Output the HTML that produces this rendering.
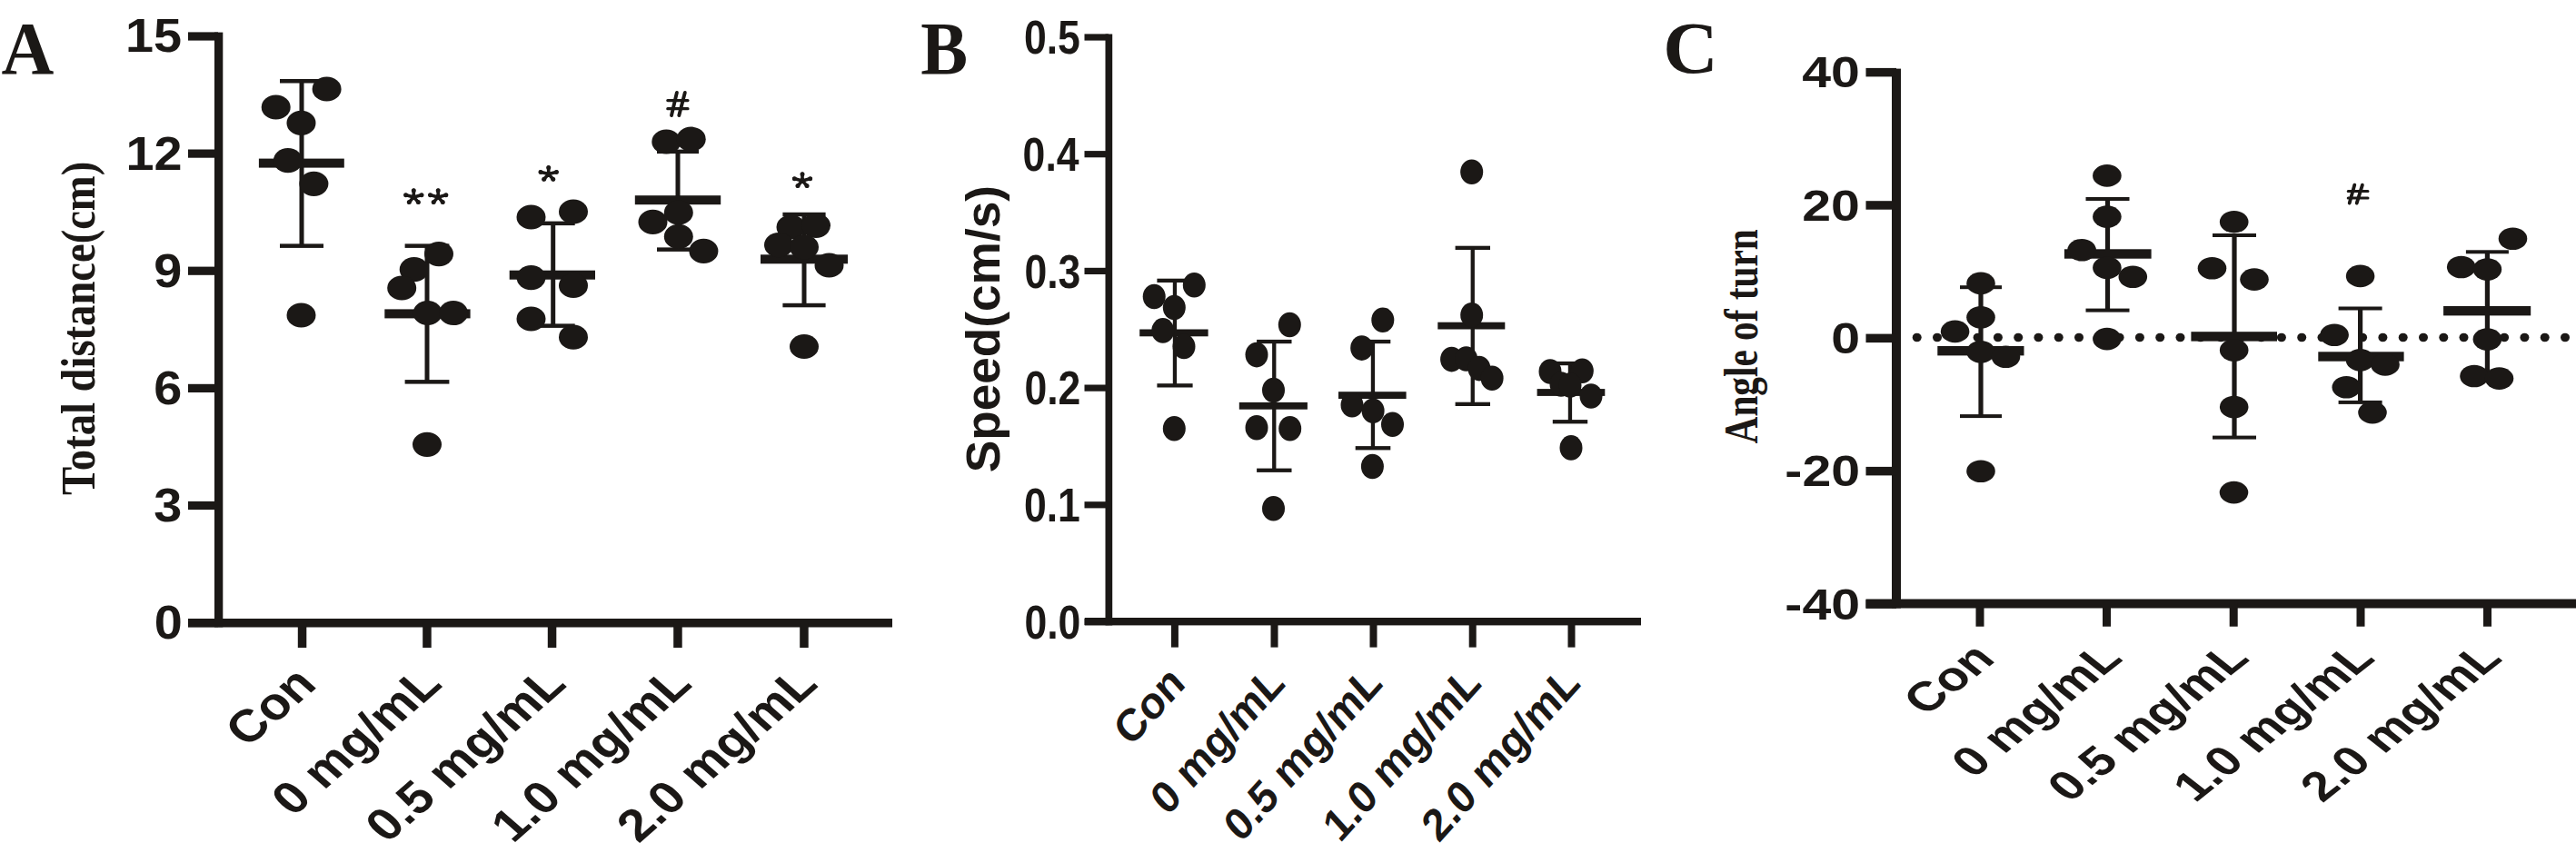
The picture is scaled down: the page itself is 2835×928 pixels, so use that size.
<!DOCTYPE html>
<html><head><meta charset="utf-8"><title>Figure</title>
<style>html,body{margin:0;padding:0;background:#fff;}svg{display:block}text{font-weight:bold;}.s{font-family:"Liberation Sans", sans-serif;}.r{font-family:"Liberation Serif", serif;}</style></head>
<body><svg width="2835" height="928" viewBox="0 0 2835 928">
<rect width="2835" height="928" fill="#fff"/>
<g fill="#1b1816">
<text transform="translate(1.40,80.80) scale(0.9759,1) rotate(0)" class="r" font-size="82.12">A</text>
<rect x="236.0" y="35.6" width="9.3" height="654.8"/>
<rect x="207.0" y="681.0" width="775.0" height="9.5"/>
<rect x="207.0" y="681.0" width="33.0" height="9.2"/>
<rect x="207.0" y="551.9" width="33.0" height="9.2"/>
<rect x="207.0" y="422.8" width="33.0" height="9.2"/>
<rect x="207.0" y="293.6" width="33.0" height="9.2"/>
<rect x="207.0" y="164.5" width="33.0" height="9.2"/>
<rect x="207.0" y="35.4" width="33.0" height="9.2"/>
<rect x="327.8" y="686.0" width="9.5" height="27.0"/>
<rect x="465.2" y="686.0" width="9.5" height="27.0"/>
<rect x="602.8" y="686.0" width="9.5" height="27.0"/>
<rect x="741.2" y="686.0" width="9.5" height="27.0"/>
<rect x="880.2" y="686.0" width="9.5" height="27.0"/>
<text transform="translate(138.05,57.48) scale(1.0787,1) rotate(0)" class="s" font-size="51.71">15</text>
<text transform="translate(138.61,187.22) scale(1.0787,1) rotate(0)" class="s" font-size="51.71">12</text>
<text transform="translate(169.29,316.08) scale(1.0787,1) rotate(0)" class="s" font-size="51.71">9</text>
<text transform="translate(169.29,445.20) scale(1.0787,1) rotate(0)" class="s" font-size="51.71">6</text>
<text transform="translate(169.29,574.32) scale(1.0787,1) rotate(0)" class="s" font-size="51.71">3</text>
<text transform="translate(169.85,703.44) scale(1.0787,1) rotate(0)" class="s" font-size="51.71">0</text>
<text transform="translate(103.74,544.93) scale(1.1300,1) rotate(-90)" class="r" font-size="46.61">Total distance(cm)</text>
<text transform="translate(272.09,824.04) scale(1.1408,1) rotate(-45)" class="s" font-size="49.90">Con</text>
<text transform="translate(322.76,899.89) scale(1.1408,1) rotate(-45)" class="s" font-size="49.90">0 mg/mL</text>
<text transform="translate(426.08,929.33) scale(1.1408,1) rotate(-45)" class="s" font-size="49.90">0.5 mg/mL</text>
<text transform="translate(564.38,929.33) scale(1.1408,1) rotate(-45)" class="s" font-size="49.90">1.0 mg/mL</text>
<text transform="translate(702.78,929.33) scale(1.1408,1) rotate(-45)" class="s" font-size="49.90">2.0 mg/mL</text>
<path d="M455.3,216.9 L455.3,209.3 M455.3,216.9 L446.1,214.5 M455.3,216.9 L464.5,214.5 M455.3,216.9 L449.9,223.0 M455.3,216.9 L460.7,223.0" fill="none" stroke="#1b1816" stroke-width="3.6" stroke-linecap="round"/>
<circle cx="455.3" cy="209.8" r="2.5"/>
<circle cx="446.7" cy="214.7" r="2.5"/>
<circle cx="463.9" cy="214.7" r="2.5"/>
<circle cx="450.3" cy="222.6" r="2.5"/>
<circle cx="460.3" cy="222.6" r="2.5"/>
<path d="M482.2,216.9 L482.2,209.3 M482.2,216.9 L473.0,214.5 M482.2,216.9 L491.4,214.5 M482.2,216.9 L476.8,223.0 M482.2,216.9 L487.6,223.0" fill="none" stroke="#1b1816" stroke-width="3.6" stroke-linecap="round"/>
<circle cx="482.2" cy="209.8" r="2.5"/>
<circle cx="473.6" cy="214.7" r="2.5"/>
<circle cx="490.8" cy="214.7" r="2.5"/>
<circle cx="477.2" cy="222.6" r="2.5"/>
<circle cx="487.2" cy="222.6" r="2.5"/>
<path d="M603.7,191.6 L603.7,184.0 M603.7,191.6 L594.5,189.2 M603.7,191.6 L612.9,189.2 M603.7,191.6 L598.3,197.7 M603.7,191.6 L609.1,197.7" fill="none" stroke="#1b1816" stroke-width="3.6" stroke-linecap="round"/>
<circle cx="603.7" cy="184.5" r="2.5"/>
<circle cx="595.1" cy="189.4" r="2.5"/>
<circle cx="612.3" cy="189.4" r="2.5"/>
<circle cx="598.7" cy="197.3" r="2.5"/>
<circle cx="608.7" cy="197.3" r="2.5"/>
<path d="M883.0,198.9 L883.0,191.3 M883.0,198.9 L873.8,196.5 M883.0,198.9 L892.2,196.5 M883.0,198.9 L877.6,205.0 M883.0,198.9 L888.4,205.0" fill="none" stroke="#1b1816" stroke-width="3.6" stroke-linecap="round"/>
<circle cx="883.0" cy="191.8" r="2.5"/>
<circle cx="874.4" cy="196.7" r="2.5"/>
<circle cx="891.6" cy="196.7" r="2.5"/>
<circle cx="878.0" cy="204.6" r="2.5"/>
<circle cx="888.0" cy="204.6" r="2.5"/>
<path d="M744.9,101.9 L739,127 M753.8,101.9 L747.3,127" fill="none" stroke="#1b1816" stroke-width="3.9" stroke-linecap="round"/>
<path d="M734.8,110.6 L757,110.6 M734.8,119.7 L757,119.7" fill="none" stroke="#1b1816" stroke-width="3.2" stroke-linecap="round"/>
<rect x="329.5" y="89.2" width="5.0" height="181.5"/>
<rect x="308.0" y="87.0" width="48.0" height="4.5"/>
<rect x="308.0" y="268.4" width="48.0" height="4.5"/>
<rect x="284.9" y="174.6" width="93.9" height="10.0"/>
<ellipse cx="359.6" cy="98.0" rx="16.0" ry="13.6"/>
<ellipse cx="303.7" cy="118.0" rx="16.0" ry="13.6"/>
<ellipse cx="331.5" cy="135.4" rx="16.0" ry="13.6"/>
<ellipse cx="316.9" cy="176.7" rx="16.0" ry="13.6"/>
<ellipse cx="345.4" cy="202.3" rx="16.0" ry="13.6"/>
<ellipse cx="331.5" cy="347.0" rx="16.0" ry="13.6"/>
<rect x="467.5" y="270.7" width="5.0" height="149.6"/>
<rect x="445.6" y="268.4" width="48.8" height="4.5"/>
<rect x="445.6" y="418.1" width="48.8" height="4.5"/>
<rect x="423.3" y="340.4" width="94.3" height="10.0"/>
<ellipse cx="483.0" cy="279.6" rx="16.0" ry="13.6"/>
<ellipse cx="455.7" cy="296.7" rx="16.0" ry="13.6"/>
<ellipse cx="442.2" cy="317.0" rx="16.0" ry="13.6"/>
<ellipse cx="470.6" cy="344.5" rx="16.0" ry="13.6"/>
<ellipse cx="499.0" cy="344.5" rx="16.0" ry="13.6"/>
<ellipse cx="470.0" cy="489.3" rx="16.0" ry="13.6"/>
<rect x="606.2" y="245.8" width="5.0" height="112.9"/>
<rect x="584.7" y="243.6" width="48.0" height="4.5"/>
<rect x="584.7" y="356.4" width="48.0" height="4.5"/>
<rect x="560.7" y="297.7" width="94.3" height="10.0"/>
<ellipse cx="584.5" cy="239.0" rx="16.0" ry="13.6"/>
<ellipse cx="631.0" cy="233.0" rx="16.0" ry="13.6"/>
<ellipse cx="584.5" cy="305.6" rx="16.0" ry="13.6"/>
<ellipse cx="631.0" cy="314.4" rx="16.0" ry="13.6"/>
<ellipse cx="584.5" cy="351.0" rx="16.0" ry="13.6"/>
<ellipse cx="631.0" cy="371.2" rx="16.0" ry="13.6"/>
<rect x="743.5" y="166.8" width="5.0" height="107.9"/>
<rect x="723.0" y="164.6" width="46.0" height="4.5"/>
<rect x="723.0" y="272.4" width="46.0" height="4.5"/>
<rect x="698.8" y="215.2" width="94.4" height="10.0"/>
<ellipse cx="733.3" cy="156.0" rx="16.0" ry="13.6"/>
<ellipse cx="760.7" cy="153.2" rx="16.0" ry="13.6"/>
<ellipse cx="718.5" cy="244.4" rx="16.0" ry="13.6"/>
<ellipse cx="746.8" cy="234.0" rx="16.0" ry="13.6"/>
<ellipse cx="746.8" cy="260.4" rx="16.0" ry="13.6"/>
<ellipse cx="774.4" cy="276.4" rx="16.0" ry="13.6"/>
<rect x="882.5" y="236.0" width="5.0" height="100.0"/>
<rect x="861.4" y="233.8" width="47.2" height="4.5"/>
<rect x="861.4" y="333.8" width="47.2" height="4.5"/>
<rect x="837.0" y="280.3" width="96.0" height="10.0"/>
<ellipse cx="870.5" cy="250.0" rx="16.0" ry="13.6"/>
<ellipse cx="898.0" cy="248.3" rx="16.0" ry="13.6"/>
<ellipse cx="857.0" cy="269.7" rx="16.0" ry="13.6"/>
<ellipse cx="885.0" cy="272.0" rx="16.0" ry="13.6"/>
<ellipse cx="912.5" cy="292.0" rx="16.0" ry="13.6"/>
<ellipse cx="885.0" cy="381.5" rx="16.0" ry="13.6"/>
<text transform="translate(1013.15,80.70) scale(0.9463,1) rotate(0)" class="r" font-size="82.15">B</text>
<rect x="1216.5" y="37.5" width="7.7" height="650.9"/>
<rect x="1193.8" y="680.0" width="612.2" height="8.4"/>
<rect x="1193.5" y="680.9" width="26.5" height="7.2"/>
<rect x="1193.5" y="552.2" width="26.5" height="7.2"/>
<rect x="1193.5" y="423.5" width="26.5" height="7.2"/>
<rect x="1193.5" y="294.8" width="26.5" height="7.2"/>
<rect x="1193.5" y="166.1" width="26.5" height="7.2"/>
<rect x="1193.5" y="37.4" width="26.5" height="7.2"/>
<rect x="1288.9" y="684.0" width="8.0" height="28.6"/>
<rect x="1398.5" y="684.0" width="8.0" height="28.6"/>
<rect x="1507.5" y="684.0" width="8.0" height="28.6"/>
<rect x="1616.7" y="684.0" width="8.0" height="28.6"/>
<rect x="1725.5" y="684.0" width="8.0" height="28.6"/>
<text transform="translate(1127.40,702.87) scale(0.8451,1) rotate(0)" class="s" font-size="52.68">0.0</text>
<text transform="translate(1126.95,574.17) scale(0.8451,1) rotate(0)" class="s" font-size="52.68">0.1</text>
<text transform="translate(1127.40,445.47) scale(0.8451,1) rotate(0)" class="s" font-size="52.68">0.2</text>
<text transform="translate(1127.40,316.77) scale(0.8451,1) rotate(0)" class="s" font-size="52.68">0.3</text>
<text transform="translate(1125.62,188.07) scale(0.8451,1) rotate(0)" class="s" font-size="52.68">0.4</text>
<text transform="translate(1126.95,59.37) scale(0.8451,1) rotate(0)" class="s" font-size="52.68">0.5</text>
<text transform="translate(1100.32,520.30) scale(0.9740,1) rotate(-90)" class="s" font-size="53.19">Speed(cm/s)</text>
<text transform="translate(1244.47,822.94) scale(0.9015,1) rotate(-45)" class="s" font-size="49.90">Con</text>
<text transform="translate(1285.04,899.29) scale(0.9015,1) rotate(-45)" class="s" font-size="49.90">0 mg/mL</text>
<text transform="translate(1365.80,928.73) scale(0.9015,1) rotate(-45)" class="s" font-size="49.90">0.5 mg/mL</text>
<text transform="translate(1474.70,928.73) scale(0.9015,1) rotate(-45)" class="s" font-size="49.90">1.0 mg/mL</text>
<text transform="translate(1583.60,928.73) scale(0.9015,1) rotate(-45)" class="s" font-size="49.90">2.0 mg/mL</text>
<rect x="1290.8" y="308.8" width="4.3" height="115.5"/>
<rect x="1273.4" y="306.7" width="39.2" height="4.3"/>
<rect x="1273.4" y="422.2" width="39.2" height="4.3"/>
<rect x="1254.2" y="362.5" width="75.4" height="7.8"/>
<ellipse cx="1314.3" cy="313.7" rx="12.5" ry="13.8"/>
<ellipse cx="1270.2" cy="326.5" rx="12.5" ry="13.8"/>
<ellipse cx="1292.3" cy="338.6" rx="12.5" ry="13.8"/>
<ellipse cx="1279.8" cy="363.9" rx="12.5" ry="13.8"/>
<ellipse cx="1303.0" cy="381.4" rx="12.5" ry="13.8"/>
<ellipse cx="1292.3" cy="471.8" rx="12.5" ry="13.8"/>
<rect x="1400.1" y="376.0" width="4.3" height="141.7"/>
<rect x="1383.1" y="373.9" width="38.4" height="4.3"/>
<rect x="1383.1" y="515.6" width="38.4" height="4.3"/>
<rect x="1363.8" y="442.9" width="75.1" height="7.8"/>
<ellipse cx="1419.3" cy="357.5" rx="12.5" ry="13.8"/>
<ellipse cx="1383.0" cy="390.6" rx="12.5" ry="13.8"/>
<ellipse cx="1401.5" cy="429.6" rx="12.5" ry="13.8"/>
<ellipse cx="1383.0" cy="470.7" rx="12.5" ry="13.8"/>
<ellipse cx="1419.7" cy="471.8" rx="12.5" ry="13.8"/>
<ellipse cx="1401.5" cy="559.7" rx="12.5" ry="13.8"/>
<rect x="1508.8" y="376.0" width="4.3" height="117.2"/>
<rect x="1491.7" y="373.9" width="38.6" height="4.3"/>
<rect x="1491.7" y="491.1" width="38.6" height="4.3"/>
<rect x="1473.0" y="431.2" width="74.6" height="7.8"/>
<ellipse cx="1521.8" cy="352.2" rx="12.5" ry="13.8"/>
<ellipse cx="1498.7" cy="383.1" rx="12.5" ry="13.8"/>
<ellipse cx="1488.0" cy="445.8" rx="12.5" ry="13.8"/>
<ellipse cx="1511.1" cy="452.2" rx="12.5" ry="13.8"/>
<ellipse cx="1532.5" cy="467.2" rx="12.5" ry="13.8"/>
<ellipse cx="1510.4" cy="513.5" rx="12.5" ry="13.8"/>
<rect x="1618.6" y="272.8" width="4.3" height="172.0"/>
<rect x="1601.6" y="270.7" width="38.4" height="4.3"/>
<rect x="1601.6" y="442.7" width="38.4" height="4.3"/>
<rect x="1582.3" y="354.7" width="74.0" height="7.8"/>
<ellipse cx="1619.7" cy="189.2" rx="12.5" ry="13.8"/>
<ellipse cx="1619.7" cy="346.8" rx="12.5" ry="13.8"/>
<ellipse cx="1597.6" cy="395.6" rx="12.5" ry="13.8"/>
<ellipse cx="1613.6" cy="395.0" rx="12.5" ry="13.8"/>
<ellipse cx="1627.9" cy="405.6" rx="12.5" ry="13.8"/>
<ellipse cx="1642.1" cy="416.2" rx="12.5" ry="13.8"/>
<rect x="1725.8" y="400.0" width="4.3" height="64.2"/>
<rect x="1708.8" y="397.9" width="38.4" height="4.3"/>
<rect x="1708.8" y="462.1" width="38.4" height="4.3"/>
<rect x="1691.6" y="428.1" width="74.7" height="7.8"/>
<ellipse cx="1706.0" cy="409.0" rx="12.5" ry="13.8"/>
<ellipse cx="1741.3" cy="408.3" rx="12.5" ry="13.8"/>
<ellipse cx="1718.0" cy="423.0" rx="12.5" ry="13.8"/>
<ellipse cx="1728.0" cy="424.0" rx="12.5" ry="13.8"/>
<ellipse cx="1751.0" cy="436.0" rx="12.5" ry="13.8"/>
<ellipse cx="1729.0" cy="492.9" rx="12.5" ry="13.8"/>
<text transform="translate(1830.31,79.99) scale(1.0304,1) rotate(0)" class="r" font-size="81.36">C</text>
<rect x="2082.0" y="75.6" width="10.0" height="593.9"/>
<rect x="2053.5" y="659.5" width="781.5" height="10.0"/>
<rect x="2053.5" y="74.9" width="33.5" height="9.5"/>
<rect x="2053.5" y="221.2" width="33.5" height="9.5"/>
<rect x="2053.5" y="367.6" width="33.5" height="9.5"/>
<rect x="2053.5" y="513.9" width="33.5" height="9.5"/>
<rect x="2053.5" y="660.3" width="33.5" height="9.5"/>
<rect x="2174.5" y="664.0" width="9.0" height="25.7"/>
<rect x="2314.0" y="664.0" width="9.0" height="25.7"/>
<rect x="2453.7" y="664.0" width="9.0" height="25.7"/>
<rect x="2593.5" y="664.0" width="9.0" height="25.7"/>
<rect x="2733.0" y="664.0" width="9.0" height="25.7"/>
<text transform="translate(1983.26,96.38) scale(1.1779,1) rotate(0)" class="s" font-size="48.59">40</text>
<text transform="translate(1983.26,242.74) scale(1.1779,1) rotate(0)" class="s" font-size="48.59">20</text>
<text transform="translate(2015.31,389.10) scale(1.1779,1) rotate(0)" class="s" font-size="48.59">0</text>
<text transform="translate(1964.37,535.46) scale(1.1779,1) rotate(0)" class="s" font-size="48.59">-20</text>
<text transform="translate(1964.37,681.82) scale(1.1779,1) rotate(0)" class="s" font-size="48.59">-40</text>
<text transform="translate(1933.54,488.41) scale(1.2990,1) rotate(-90)" class="r" font-size="41.28">Angle of turn</text>
<text transform="translate(2118.95,789.26) scale(1.2630,1) rotate(-45)" class="s" font-size="45.22">Con</text>
<text transform="translate(2171.63,857.73) scale(1.2630,1) rotate(-45)" class="s" font-size="45.22">0 mg/mL</text>
<text transform="translate(2277.54,884.40) scale(1.2630,1) rotate(-45)" class="s" font-size="45.22">0.5 mg/mL</text>
<text transform="translate(2415.84,884.40) scale(1.2630,1) rotate(-45)" class="s" font-size="45.22">1.0 mg/mL</text>
<text transform="translate(2555.84,884.40) scale(1.2630,1) rotate(-45)" class="s" font-size="45.22">2.0 mg/mL</text>
<path d="M2591.3,203.6 L2585.7,223.6 M2599.9,203.6 L2593.7,223.6" fill="none" stroke="#1b1816" stroke-width="3.8" stroke-linecap="round"/>
<path d="M2584.2,210.6 L2606,210.6 M2584.2,218 L2606,218" fill="none" stroke="#1b1816" stroke-width="3.0" stroke-linecap="round"/>
<ellipse cx="2109.7" cy="371.5" rx="5.0" ry="4.8"/>
<ellipse cx="2132.0" cy="371.5" rx="5.0" ry="4.8"/>
<ellipse cx="2154.3" cy="371.5" rx="5.0" ry="4.8"/>
<ellipse cx="2176.6" cy="371.5" rx="5.0" ry="4.8"/>
<ellipse cx="2198.9" cy="371.5" rx="5.0" ry="4.8"/>
<ellipse cx="2221.2" cy="371.5" rx="5.0" ry="4.8"/>
<ellipse cx="2243.4" cy="371.5" rx="5.0" ry="4.8"/>
<ellipse cx="2265.7" cy="371.5" rx="5.0" ry="4.8"/>
<ellipse cx="2288.0" cy="371.5" rx="5.0" ry="4.8"/>
<ellipse cx="2310.3" cy="371.5" rx="5.0" ry="4.8"/>
<ellipse cx="2332.6" cy="371.5" rx="5.0" ry="4.8"/>
<ellipse cx="2354.9" cy="371.5" rx="5.0" ry="4.8"/>
<ellipse cx="2377.2" cy="371.5" rx="5.0" ry="4.8"/>
<ellipse cx="2399.5" cy="371.5" rx="5.0" ry="4.8"/>
<ellipse cx="2421.8" cy="371.5" rx="5.0" ry="4.8"/>
<ellipse cx="2444.1" cy="371.5" rx="5.0" ry="4.8"/>
<ellipse cx="2466.4" cy="371.5" rx="5.0" ry="4.8"/>
<ellipse cx="2488.6" cy="371.5" rx="5.0" ry="4.8"/>
<ellipse cx="2510.9" cy="371.5" rx="5.0" ry="4.8"/>
<ellipse cx="2533.2" cy="371.5" rx="5.0" ry="4.8"/>
<ellipse cx="2555.5" cy="371.5" rx="5.0" ry="4.8"/>
<ellipse cx="2577.8" cy="371.5" rx="5.0" ry="4.8"/>
<ellipse cx="2600.1" cy="371.5" rx="5.0" ry="4.8"/>
<ellipse cx="2622.4" cy="371.5" rx="5.0" ry="4.8"/>
<ellipse cx="2644.7" cy="371.5" rx="5.0" ry="4.8"/>
<ellipse cx="2667.0" cy="371.5" rx="5.0" ry="4.8"/>
<ellipse cx="2689.3" cy="371.5" rx="5.0" ry="4.8"/>
<ellipse cx="2711.5" cy="371.5" rx="5.0" ry="4.8"/>
<ellipse cx="2733.8" cy="371.5" rx="5.0" ry="4.8"/>
<ellipse cx="2756.1" cy="371.5" rx="5.0" ry="4.8"/>
<ellipse cx="2778.4" cy="371.5" rx="5.0" ry="4.8"/>
<ellipse cx="2800.7" cy="371.5" rx="5.0" ry="4.8"/>
<ellipse cx="2823.0" cy="371.5" rx="5.0" ry="4.8"/>
<rect x="2177.4" y="316.2" width="5.2" height="141.9"/>
<rect x="2157.0" y="314.2" width="46.0" height="4.0"/>
<rect x="2157.0" y="456.1" width="46.0" height="4.0"/>
<rect x="2132.3" y="381.0" width="95.2" height="10.4"/>
<ellipse cx="2180.0" cy="311.9" rx="15.8" ry="12.3"/>
<ellipse cx="2180.0" cy="349.3" rx="15.8" ry="12.3"/>
<ellipse cx="2151.6" cy="364.9" rx="15.8" ry="12.3"/>
<ellipse cx="2180.0" cy="387.3" rx="15.8" ry="12.3"/>
<ellipse cx="2207.5" cy="392.7" rx="15.8" ry="12.3"/>
<ellipse cx="2180.0" cy="518.8" rx="15.8" ry="12.3"/>
<rect x="2316.9" y="219.0" width="5.2" height="122.6"/>
<rect x="2295.5" y="217.0" width="48.0" height="4.0"/>
<rect x="2295.5" y="339.6" width="48.0" height="4.0"/>
<rect x="2271.9" y="274.3" width="95.7" height="10.4"/>
<ellipse cx="2318.9" cy="193.4" rx="15.8" ry="12.3"/>
<ellipse cx="2318.9" cy="238.6" rx="15.8" ry="12.3"/>
<ellipse cx="2291.1" cy="275.2" rx="15.8" ry="12.3"/>
<ellipse cx="2318.9" cy="294.8" rx="15.8" ry="12.3"/>
<ellipse cx="2347.3" cy="304.8" rx="15.8" ry="12.3"/>
<ellipse cx="2318.9" cy="373.1" rx="15.8" ry="12.3"/>
<rect x="2456.4" y="259.0" width="5.2" height="222.6"/>
<rect x="2435.0" y="257.0" width="48.0" height="4.0"/>
<rect x="2435.0" y="479.6" width="48.0" height="4.0"/>
<rect x="2411.4" y="365.2" width="94.6" height="10.4"/>
<ellipse cx="2458.7" cy="244.2" rx="15.8" ry="12.3"/>
<ellipse cx="2434.5" cy="295.2" rx="15.8" ry="12.3"/>
<ellipse cx="2481.0" cy="307.6" rx="15.8" ry="12.3"/>
<ellipse cx="2458.7" cy="385.5" rx="15.8" ry="12.3"/>
<ellipse cx="2458.7" cy="448.0" rx="15.8" ry="12.3"/>
<ellipse cx="2458.5" cy="542.1" rx="15.8" ry="12.3"/>
<rect x="2595.0" y="339.5" width="5.2" height="103.4"/>
<rect x="2573.6" y="337.5" width="48.0" height="4.0"/>
<rect x="2573.6" y="440.9" width="48.0" height="4.0"/>
<rect x="2551.3" y="387.3" width="94.3" height="10.4"/>
<ellipse cx="2597.6" cy="303.9" rx="15.8" ry="12.3"/>
<ellipse cx="2569.1" cy="368.7" rx="15.8" ry="12.3"/>
<ellipse cx="2597.6" cy="396.4" rx="15.8" ry="12.3"/>
<ellipse cx="2625.0" cy="401.4" rx="15.8" ry="12.3"/>
<ellipse cx="2582.3" cy="426.3" rx="15.8" ry="12.3"/>
<ellipse cx="2611.0" cy="454.1" rx="15.8" ry="12.3"/>
<rect x="2734.8" y="277.3" width="5.2" height="132.7"/>
<rect x="2713.9" y="275.3" width="47.0" height="4.0"/>
<rect x="2713.9" y="408.0" width="47.0" height="4.0"/>
<rect x="2689.1" y="337.0" width="96.1" height="10.4"/>
<ellipse cx="2765.5" cy="262.7" rx="15.8" ry="12.3"/>
<ellipse cx="2708.7" cy="294.0" rx="15.8" ry="12.3"/>
<ellipse cx="2737.4" cy="296.5" rx="15.8" ry="12.3"/>
<ellipse cx="2737.4" cy="373.5" rx="15.8" ry="12.3"/>
<ellipse cx="2723.0" cy="414.0" rx="15.8" ry="12.3"/>
<ellipse cx="2750.5" cy="416.6" rx="15.8" ry="12.3"/>
</g></svg></body></html>
